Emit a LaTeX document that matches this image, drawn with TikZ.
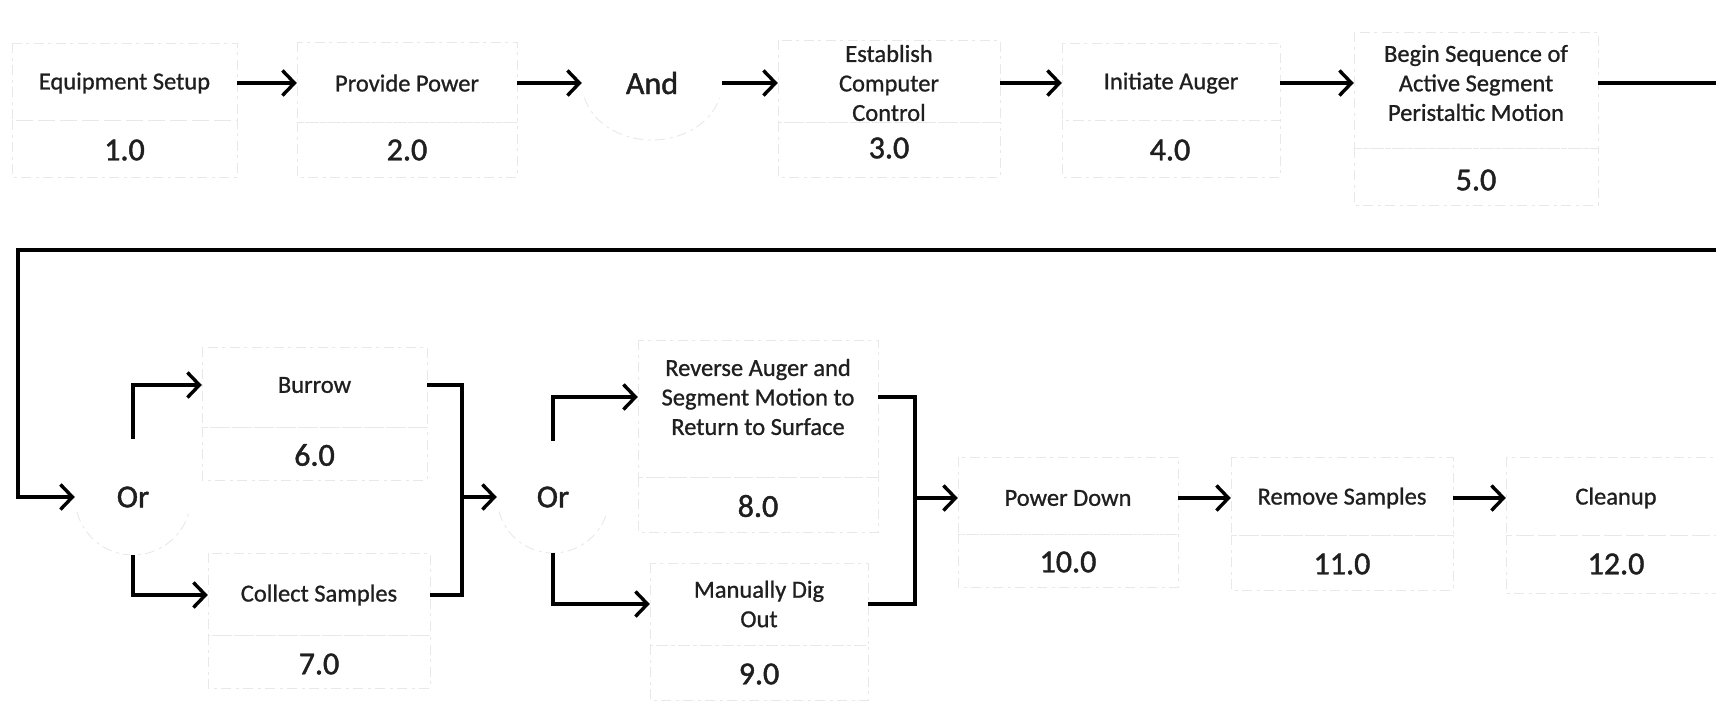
\documentclass[tikz,border=0pt]{standalone}
\usepackage{fontspec}
\setmainfont{Carlito}
\newfontface\lblface{Carlito}[FakeBold=0.9]
\newfontface\numface{Carlito}[FakeBold=1.4]
\usetikzlibrary{arrows.meta,shapes.geometric}
\begin{document}
\begin{tikzpicture}[x=1pt,y=-1pt,
  conn/.style={line width=3.4pt, black},
  arr/.style={conn, -{Straight Barb[length=12pt,width=25pt]}},
  faint/.style={draw=black!9, line width=0.9pt, dash pattern=on 10pt off 5pt on 3pt off 4pt},
  lbl/.style={inner sep=0pt, align=center, text=black!88, font=\lblface\fontsize{24.5}{29.5}\selectfont},
  num/.style={inner sep=0pt, text=black!88, font=\numface\fontsize{32}{38}\selectfont},
  gate/.style={inner sep=0pt, text=black!88, font=\numface\fontsize{32}{38}\selectfont},
]
\useasboundingbox (0,0) rectangle (1716,710);
\clip (0,0) rectangle (1716,710);

% faint box outlines
\draw[faint] (12,43) rectangle (237,120) (12,120) rectangle (237,177);
\draw[faint] (297,42) rectangle (517,122) (297,122) rectangle (517,177);
\draw[faint] (778,40) rectangle (1000,122) (778,122) rectangle (1000,177);
\draw[faint] (1062,43) rectangle (1280,120) (1062,120) rectangle (1280,177);
\draw[faint] (1354,32) rectangle (1598,148) (1354,148) rectangle (1598,205);
\draw[faint] (202,347) rectangle (427,427) (202,427) rectangle (427,480);
\draw[faint] (208,553) rectangle (430,635) (208,635) rectangle (430,688);
\draw[faint] (638,340) rectangle (878,477) (638,477) rectangle (878,532);
\draw[faint] (650,563) rectangle (868,645) (650,645) rectangle (868,700);
\draw[faint] (958,457) rectangle (1178,534) (958,534) rectangle (1178,587);
\draw[faint] (1231,457) rectangle (1453,535) (1231,535) rectangle (1453,590);
\draw[faint] (1506,457) rectangle (1726,535) (1506,535) rectangle (1726,593);

% top row
\node[lbl, minimum width=225pt] (n1) at (124.5,83) {Equipment Setup};
\node[num] (k1) at (124.5,150) {1.0};
\node[lbl, minimum width=220pt] (n2) at (407,83) {Provide Power};
\node[num] (k2) at (407,150) {2.0};
\node[gate, ellipse, minimum width=140pt, minimum height=114pt] (and) at (652,83) {And};
\draw[faint] ([shift={(195:70pt and 57pt)}]and.center) arc[start angle=195,end angle=345,x radius=70pt,y radius=57pt];
\node[lbl, minimum width=222pt] (n3) at (889,83) {Establish\\Computer\\Control};
\node[num] (k3) at (889,148) {3.0};
\node[lbl, minimum width=218pt] (n4) at (1171,83) {Initiate Auger};
\node[num] (k4) at (1170,150) {4.0};
\node[lbl, minimum width=244pt] (n5) at (1476,83) {Begin Sequence of\\Active Segment\\Peristaltic Motion};
\node[num] (k5) at (1476,180) {5.0};

% lower part
\node[gate, circle, minimum size=116pt] (or1) at (133,497) {Or};
\draw[faint] ([shift={(195:58pt)}]or1.center) arc[start angle=195,end angle=345,radius=58pt];
\node[lbl, minimum width=225pt] (n6) at (314.5,385) {Burrow};
\node[num] (k6) at (314.5,455) {6.0};
\node[lbl, minimum width=222pt] (n7) at (319,595) {Collect Samples};
\node[num] (k7) at (319,664) {7.0};
\coordinate (m1) at (462,497);

\node[gate, circle, minimum size=112pt] (or2) at (553,497) {Or};
\draw[faint] ([shift={(195:56pt)}]or2.center) arc[start angle=195,end angle=345,radius=56pt];
\node[lbl, minimum width=240pt] (n8) at (758,397) {Reverse Auger and\\Segment Motion to\\Return to Surface};
\node[num] (k8) at (758,506) {8.0};
\node[lbl, minimum width=218pt] (n9) at (759,604) {Manually Dig\\Out};
\node[num] (k9) at (759,674) {9.0};
\coordinate (m2) at (915,498);

\node[lbl, minimum width=220pt] (n10) at (1068,498) {Power Down};
\node[num] (k10) at (1068,562) {10.0};
\node[lbl, minimum width=222pt] (n11) at (1342,498) {Remove Samples};
\node[num] (k11) at (1342,564) {11.0};
\node[lbl, minimum width=220pt] (n12) at (1616,498) {Cleanup};
\node[num] (k12) at (1616,564) {12.0};

% connectors
\draw[arr] (n1.east) -- (n2.west);
\draw[arr] (n2.east) -- (and.west);
\draw[arr] (and.east) -- (n3.west);
\draw[arr] (n3.east) -- (n4.west);
\draw[arr] (n4.east) -- (n5.west);
\draw[arr] (n5.east) -- (1745,83) |- (18,250) |- (or1.west);
\draw[arr] (or1.north) |- (n6.west);
\draw[arr] (or1.south) |- (n7.west);
\draw[conn] (n6.east) -| (m1) |- (n7.east);
\draw[arr] (m1) -- (or2.west);
\draw[arr] (or2.north) |- (n8.west);
\draw[arr] (or2.south) |- (n9.west);
\draw[conn] (n8.east) -| (m2) |- (n9.east);
\draw[arr] (m2) -- (n10.west);
\draw[arr] (n10.east) -- (n11.west);
\draw[arr] (n11.east) -- (n12.west);
\end{tikzpicture}
\end{document}
